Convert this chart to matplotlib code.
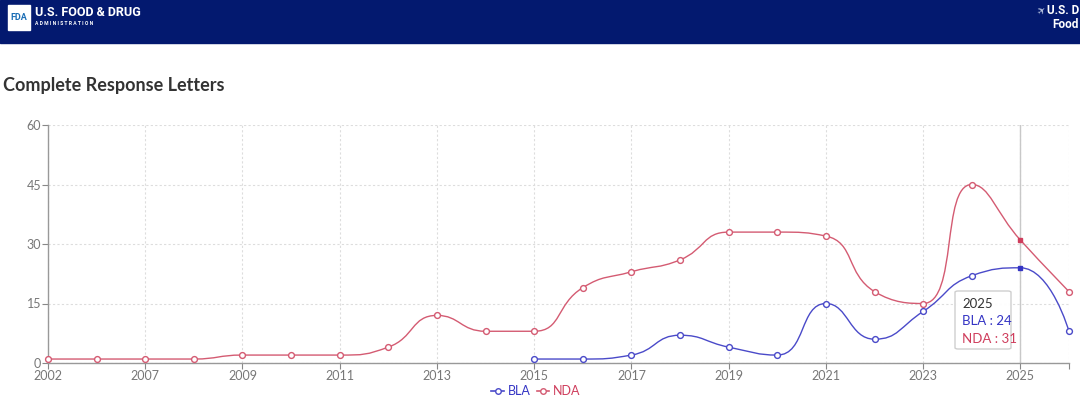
import matplotlib
matplotlib.use("Agg")
import matplotlib.pyplot as plt
from matplotlib.path import Path
from matplotlib.patches import PathPatch, Rectangle, FancyBboxPatch
import numpy as np

plt.rcParams["font.family"] = ["Lato", "DejaVu Sans"]

# data
years = ["2002", "2006", "2007", "2008", "2009", "2010", "2011", "2012", "2013", "2014", "2015",
         "2016", "2017", "2018", "2019", "2020", "2021", "2022", "2023", "2024", "2025", "2026"]
nda = [1, 1, 1, 1, 2, 2, 2, 4, 12, 8, 8, 19, 23, 26, 33, 33, 32, 18, 15, 45, 31, 18]
bla_years = ["2015", "2016", "2017", "2018", "2019", "2020", "2021", "2022", "2023", "2024", "2025", "2026"]
bla = [1, 1, 2, 7, 4, 2, 15, 6, 13, 22, 24, 8]
hover_year = "2025"

BLUE = "#4a4ac9"
RED = "#d45b72"
BLUE_T = "#3434c4"
RED_T = "#cf3d5c"


def smooth_path(xs, ys, sx, sy, smooth=0.5):
    # echarts style smoothing, done in pixel-like units
    px = np.asarray(xs, float) * sx
    py = np.asarray(ys, float) * sy
    n = len(px)
    verts = [(px[0], py[0])]
    codes = [Path.MOVETO]
    cp0x, cp0y = px[0], py[0]
    for k in range(1, n):
        x, y = px[k], py[k]
        prevx, prevy = px[k - 1], py[k - 1]
        if k == n - 1:
            cp1x, cp1y = x, y
            ncx, ncy = x, y
        else:
            nx, ny = px[k + 1], py[k + 1]
            vx, vy = nx - prevx, ny - prevy
            lp = np.hypot(x - prevx, y - prevy)
            ln = np.hypot(nx - x, ny - y)
            r = ln / (ln + lp)
            ncx = x + vx * smooth * r
            ncy = y + vy * smooth * r
            ncx = min(max(ncx, min(nx, x)), max(nx, x))
            ncy = min(max(ncy, min(ny, y)), max(ny, y))
            vx, vy = ncx - x, ncy - y
            cp1x = x - vx * lp / ln
            cp1y = y - vy * lp / ln
            cp1x = min(max(cp1x, min(prevx, x)), max(prevx, x))
            cp1y = min(max(cp1y, min(prevy, y)), max(prevy, y))
            vx, vy = x - cp1x, y - cp1y
            ncx = x + vx * ln / lp
            ncy = y + vy * ln / lp
        verts += [(cp0x, cp0y), (cp1x, cp1y), (x, y)]
        codes += [Path.CURVE4] * 3
        cp0x, cp0y = ncx, ncy
    verts = [(a / sx, b / sy) for a, b in verts]
    return Path(verts, codes)


fig = plt.figure(figsize=(10.8, 4.07), dpi=100)

# header bar
fig.add_artist(Rectangle((0, 1 - 43 / 407), 1, 43 / 407, transform=fig.transFigure,
                         color="#03196f", zorder=0))
fig.add_artist(Rectangle((8 / 1080, 1 - 30 / 407), 22 / 1080, 25 / 407, transform=fig.transFigure,
                         color="white", zorder=1))
fig.text(19 / 1080, 1 - 17 / 407, "FDA", color="#1a6db5", fontsize=6.5, fontweight="bold",
         ha="center", va="center", family="Roboto")
fig.text(35 / 1080, 1 - 13 / 407, "U.S. FOOD & DRUG", color="white", fontsize=9,
         fontweight="bold", va="center", family="Roboto")
fig.text(35 / 1080, 1 - 23.5 / 407, "A D M I N I S T R A T I O N", color="white", fontsize=3.6,
         fontweight="bold", va="center", family="Roboto")
fig.text(1042 / 1080, 1 - 11 / 407, "\u2708", color="#b8c4e0", fontsize=7.5, va="center",
         ha="center", family="DejaVu Sans", rotation=40)
fig.text(1079 / 1080, 1 - 11 / 407, "U.S. D", color="white",
         fontsize=8.5, fontweight="bold", va="center", ha="right", family="Roboto")
fig.text(1079 / 1080, 1 - 24 / 407, "Food", color="white",
         fontsize=8.5, fontweight="bold", va="center", ha="right", family="Roboto")

fig.text(3 / 1080, 1 - 85 / 407, "Complete Response Letters", color="#333333", fontsize=13,
         fontweight="bold", va="center", family="Lato")

ax = fig.add_axes([48 / 1080, 1 - 363 / 407, 1021 / 1080, 238 / 407])
xi = np.arange(len(years))
bla_x = [years.index(y) for y in bla_years]
ax.set_xlim(0, len(years) - 1)
ax.set_ylim(0, 60)

sx = 1021 / (len(years) - 1)
sy = 238 / 60
ax.add_patch(PathPatch(smooth_path(xi, nda, sx, sy), fill=False, ec=RED, lw=1.0, zorder=3))
ax.add_patch(PathPatch(smooth_path(bla_x, bla, sx, sy), fill=False, ec=BLUE, lw=1.0, zorder=3))

h = years.index(hover_year)
ax.axvline(h, color="#c8c8c8", lw=1, zorder=2)

nda_mask = [i != h for i in xi]
ax.plot(xi[nda_mask], np.array(nda)[nda_mask], "o", ms=4.2, mfc="white", mec=RED, mew=1.0,
        zorder=4, clip_on=False)
bx = np.array(bla_x)
ax.plot(bx[bx != h], np.array(bla)[bx != h], "o", ms=4.2, mfc="white", mec=BLUE, mew=1.0,
        zorder=4, clip_on=False)
ax.plot(h, nda[h], "s", ms=3.5, color=RED_T, zorder=5)
ax.plot(h, bla[bla_x.index(h)], "s", ms=3.5, color=BLUE_T, zorder=5)

ax.set_yticks([0, 15, 30, 45, 60])
ax.set_xticks(list(xi[::2]) + [xi[-1]])
ax.set_xticklabels(years[::2] + [""])
ax.tick_params(axis="both", colors="#888888", labelcolor="#777777", labelsize=9, length=4,
               width=0.8, pad=1)
ax.grid(True, color="#dddddd", linestyle=(0, (2, 2)), lw=0.8)
for s in ["top", "right"]:
    ax.spines[s].set_visible(False)
for s in ["left", "bottom"]:
    ax.spines[s].set_color("#999999")
    ax.spines[s].set_linewidth(1)

# tooltip
tip = FancyBboxPatch((955 / 1080, 1 - 349 / 407), 56 / 1080, 58 / 407, transform=fig.transFigure,
                     boxstyle="round,pad=0,rounding_size=0.003", fc="white", ec="#cccccc",
                     lw=1, alpha=0.95, zorder=10)
fig.add_artist(tip)
fig.text(962 / 1080, 1 - 304 / 407, hover_year, color="#333333", fontsize=9.5, va="center", zorder=11)
fig.text(962 / 1080, 1 - 321 / 407, "BLA : %d" % bla[bla_x.index(h)], color=BLUE_T, fontsize=9.5,
         va="center", zorder=11)
fig.text(962 / 1080, 1 - 339 / 407, "NDA : %d" % nda[h], color=RED_T, fontsize=9.5,
         va="center", zorder=11)

# legend
lb, = ax.plot([], [], "-o", color=BLUE, ms=4, mfc="white", mew=1, lw=1.2)
ln, = ax.plot([], [], "-o", color=RED, ms=4, mfc="white", mew=1, lw=1.2)
leg = fig.legend([lb, ln], ["BLA", "NDA"], loc="center", bbox_to_anchor=(536 / 1080, 1 - 391 / 407),
                 ncol=2, frameon=False, fontsize=9, handlelength=1.0, handletextpad=0.3,
                 columnspacing=0.5, borderaxespad=0)
for t, c in zip(leg.get_texts(), [BLUE_T, RED_T]):
    t.set_color(c)

fig.savefig("out.png", dpi=100)
